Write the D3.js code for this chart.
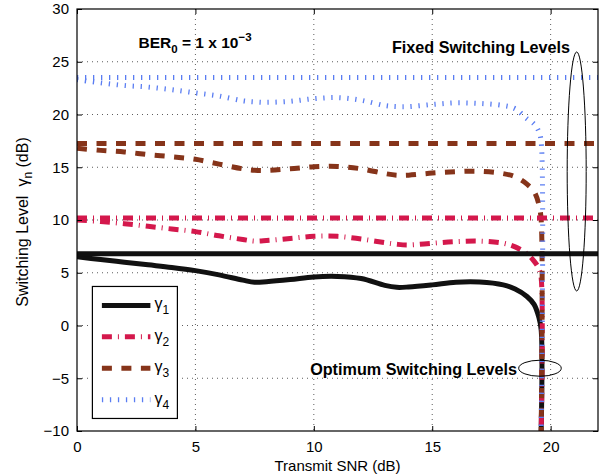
<!DOCTYPE html>
<html>
<head>
<meta charset="utf-8">
<script src="https://cdn.jsdelivr.net/npm/d3@7"></script>
<style>
  html, body { margin: 0; padding: 0; background: #fff; }
  svg { display: block; font-family: "Liberation Sans", Arial, Helvetica, sans-serif; }
</style>
</head>
<body>
<svg id="chart" width="602" height="476"></svg>
<script>
// Transmit SNR grid (dB); the last two points form the drop at the SNR limit
const snr = [0, 1, 2, 3, 4, 5, 6, 7, 7.5, 8, 9, 10, 11, 12, 13, 13.5, 14, 15, 16, 17, 18, 18.5, 19, 19.3, 19.5, 19.6, 19.6];

// Optimum switching levels (dB)
const gamma1 = [6.52, 6.25, 6.0, 5.75, 5.5, 5.2, 4.8, 4.3, 4.1, 4.15, 4.35, 4.6, 4.65, 4.45, 3.8, 3.62, 3.65, 3.85, 4.1, 4.12, 3.85, 3.45, 2.75, 2.0, 0.8, -0.4, -10];
const gamma2 = [10.0, 9.85, 9.65, 9.4, 9.15, 8.9, 8.5, 8.15, 8.0, 8.05, 8.25, 8.45, 8.45, 8.2, 7.85, 7.7, 7.63, 7.8, 7.95, 8.0, 7.8, 7.45, 6.8, 6.1, 5.4, 4.5, -10];
const gamma3 = [16.8, 16.6, 16.45, 16.2, 16.0, 15.75, 15.3, 14.85, 14.72, 14.7, 14.85, 15.05, 15.08, 14.85, 14.4, 14.25, 14.25, 14.45, 14.58, 14.62, 14.4, 14.1, 13.4, 12.7, 11.5, 10.0, -10];
const gamma4 = [23.3, 23.0, 22.75, 22.6, 22.35, 22.05, 21.75, 21.3, 21.2, 21.15, 21.25, 21.5, 21.6, 21.35, 20.85, 20.75, 20.75, 20.95, 21.1, 21.05, 20.85, 20.55, 19.6, 19.1, 18.4, 17.4, -10];

// Fixed switching levels (dB)
const fixedLevels = [6.8, 10.2, 17.25, 23.5];

const seriesNames = ["1", "2", "3", "4"];
const xTicks = [0, 5, 10, 15, 20];
const yTicks = [-10, -5, 0, 5, 10, 15, 20, 25, 30];

const styles = [
  { color: "#111111", width: 5, dash: null },
  { color: "#d4184c", width: 5, dash: "10,6,1,6" },
  { color: "#86341a", width: 5, dash: "10,9.5" },
  { color: "#5a7df2", width: 5, dash: "1.3,6.7" }
];

const margin = { left: 77, top: 9, right: 4, bottom: 45 };
const W = 602, H = 476;
const iw = W - margin.left - margin.right;
const ih = H - margin.top - margin.bottom;

const svg = d3.select("#chart");
const g = svg.append("g").attr("transform", `translate(${margin.left},${margin.top})`);

const x = d3.scaleLinear().domain([0, 22]).range([0, iw]);
const y = d3.scaleLinear().domain([-10, 30]).range([ih, 0]);

svg.append("defs").append("clipPath").attr("id", "plotClip")
  .append("rect").attr("width", iw).attr("height", ih);

// Dotted grid
const grid = g.append("g").attr("class", "grid");
grid.selectAll("line.vx").data(xTicks.filter(d => d > 0)).join("line")
  .attr("x1", d => x(d)).attr("x2", d => x(d)).attr("y1", 0).attr("y2", ih)
  .attr("stroke", "#333").attr("stroke-width", 0.8).attr("stroke-dasharray", "1,4");
grid.selectAll("line.hy").data(yTicks.filter(d => d > -10 && d < 30)).join("line")
  .attr("x1", 0).attr("x2", iw).attr("y1", d => y(d)).attr("y2", d => y(d))
  .attr("stroke", "#333").attr("stroke-width", 0.8).attr("stroke-dasharray", "1,4");

// Curves
const optimum = [gamma1, gamma2, gamma3, gamma4];
const line = d3.line()
  .x(d => x(d[0])).y(d => y(d[1]))
  .curve(d3.curveCatmullRom.alpha(0.5));

const plot = g.append("g").attr("clip-path", "url(#plotClip)");
optimum.forEach((vals, i) => {
  const pts = snr.map((s, k) => [s, vals[k]]);
  const st = styles[i];
  plot.append("path").datum(pts)
    .attr("d", line)
    .attr("fill", "none")
    .attr("stroke", st.color)
    .attr("stroke-width", st.width)
    .attr("stroke-linejoin", "round")
    .attr("stroke-dasharray", st.dash);
});
fixedLevels.forEach((v, i) => {
  const st = styles[i];
  plot.append("line")
    .attr("x1", x(0)).attr("x2", x(22))
    .attr("y1", y(v)).attr("y2", y(v))
    .attr("stroke", st.color)
    .attr("stroke-width", st.width)
    .attr("stroke-dasharray", st.dash);
});

// Axes (ticks inside, box on all sides)
const tickLen = 5;
const axisB = d3.axisBottom(x).tickValues(xTicks).tickSizeInner(-tickLen).tickSizeOuter(0).tickPadding(10).tickFormat(d3.format("d"));
const axisT = d3.axisTop(x).tickValues(xTicks).tickSizeInner(-tickLen).tickSizeOuter(0).tickFormat("");
const axisL = d3.axisLeft(y).tickValues(yTicks).tickSizeInner(-tickLen).tickSizeOuter(0).tickPadding(8)
  .tickFormat(d => d < 0 ? "\u2212" + Math.abs(d) : d);
const axisR = d3.axisRight(y).tickValues(yTicks).tickSizeInner(-tickLen).tickSizeOuter(0).tickFormat("");

function styleAxis(sel) {
  sel.select(".domain").remove();
  sel.selectAll("line").attr("stroke", "#000").attr("stroke-width", 1);
  sel.selectAll("text").attr("fill", "#000").attr("font-size", 15)
    .attr("font-family", "'Liberation Sans', Arial, sans-serif");
}
g.append("g").attr("transform", `translate(0,${ih})`).call(axisB).call(styleAxis);
g.append("g").call(axisT).call(styleAxis);
g.append("g").call(axisL).call(styleAxis);
g.append("g").attr("transform", `translate(${iw},0)`).call(axisR).call(styleAxis);

g.append("rect").attr("width", iw).attr("height", ih)
  .attr("fill", "none").attr("stroke", "#000").attr("stroke-width", 1.2);

// Axis titles
svg.append("text")
  .attr("x", margin.left + x(11)).attr("y", 471)
  .attr("text-anchor", "middle").attr("font-size", 15)
  .text("Transmit SNR (dB)");

const yl = svg.append("text")
  .attr("transform", `translate(28,${margin.top + y(10) + 2}) rotate(-90)`)
  .attr("text-anchor", "middle").attr("font-size", 16);
yl.append("tspan").text("Switching Level");
yl.append("tspan").attr("dx", 9).text("\u03B3");
yl.append("tspan").attr("dy", 4).attr("font-size", 12).text("n");
yl.append("tspan").attr("dy", -4).text(" (dB)");

// Annotations
const ber = g.append("text")
  .attr("x", x(2.6)).attr("y", y(26.3))
  .attr("font-size", 15.5).attr("font-weight", "bold");
ber.append("tspan").text("BER");
ber.append("tspan").attr("dy", 5).attr("font-size", 11.5).text("0");
ber.append("tspan").attr("dy", -5).text(" = 1 x 10");
ber.append("tspan").attr("dy", -7).attr("font-size", 11.5).text("\u22123");

g.append("text")
  .attr("x", x(20.82)).attr("y", y(25.85))
  .attr("text-anchor", "end").attr("font-size", 16.2).attr("font-weight", "bold")
  .text("Fixed Switching Levels");

g.append("text")
  .attr("x", x(18.58)).attr("y", y(-4.65))
  .attr("text-anchor", "end").attr("font-size", 16.2).attr("font-weight", "bold")
  .text("Optimum Switching Levels");

g.append("ellipse")
  .attr("cx", x(21.1)).attr("cy", y(14.6))
  .attr("rx", 9.5).attr("ry", 119.5)
  .attr("fill", "none").attr("stroke", "#000").attr("stroke-width", 1);

g.append("ellipse")
  .attr("cx", x(19.55)).attr("cy", y(-4.05))
  .attr("rx", 21.3).attr("ry", 8)
  .attr("fill", "none").attr("stroke", "#000").attr("stroke-width", 1);

// Legend
const lg = g.append("g").attr("transform", `translate(${x(0.65)},${y(3.7)})`);
lg.append("rect").attr("width", 85).attr("height", 132)
  .attr("fill", "#fff").attr("stroke", "#000").attr("stroke-width", 1.2);
seriesNames.forEach((name, i) => {
  const st = styles[i];
  const yy = 19 + i * 31.4;
  lg.append("line")
    .attr("x1", 9.5).attr("x2", 58).attr("y1", yy).attr("y2", yy)
    .attr("stroke", st.color).attr("stroke-width", st.width)
    .attr("stroke-dasharray", st.dash);
  const t = lg.append("text").attr("x", 62).attr("y", yy + 4).attr("font-size", 16);
  t.append("tspan").text("\u03B3");
  t.append("tspan").attr("dy", 5).attr("font-size", 12).text(name);
});
</script>
</body>
</html>
